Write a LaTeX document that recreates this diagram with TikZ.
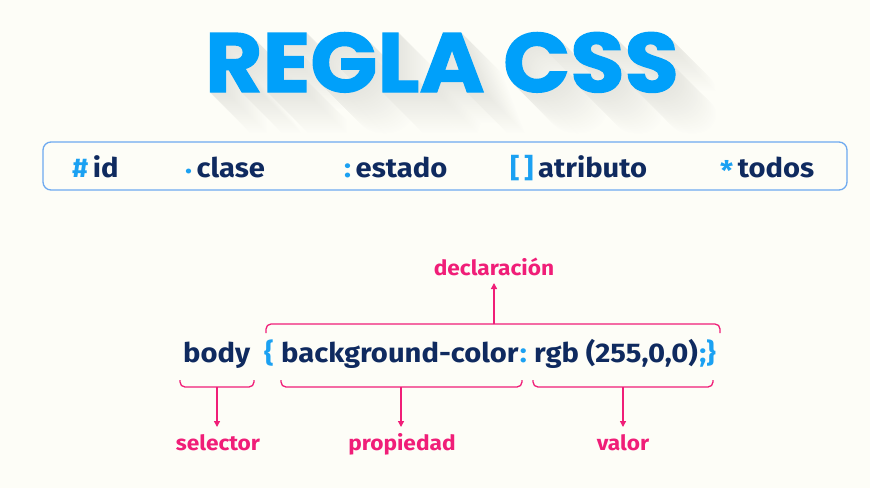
\documentclass[tikz,border=0pt]{standalone}
\usepackage{fontspec}
\setmainfont{Fira Sans}[BoldFeatures={FakeStretch=1.08}]
\newfontfamily\titlefont{Poppins}[BoldFeatures={FakeBold=1.5,FakeStretch=1.05}]
\usetikzlibrary{arrows.meta}
\definecolor{bgc}{RGB}{253,253,247}
\definecolor{navy}{RGB}{15,42,95}
\definecolor{symb}{RGB}{27,161,242}
\definecolor{titleblue}{RGB}{0,160,250}
\definecolor{pinkc}{RGB}{240,30,120}
\definecolor{boxline}{RGB}{110,170,240}
\definecolor{shadowc}{RGB}{230,230,224}
\begin{document}
\begin{tikzpicture}[x=1pt,y=-1pt,
  titletxt/.style={font=\titlefont\bfseries\fontsize{84}{84}\selectfont, inner sep=0pt, anchor=base},
  item/.style={font=\bfseries\fontsize{27}{27}\selectfont, text=navy, inner sep=0pt, anchor=base west},
  code/.style={font=\bfseries\fontsize{27}{27}\selectfont, text=navy, inner sep=0pt, anchor=base west},
  codesym/.style={code, text=symb},
  lbl/.style={font=\bfseries\fontsize{21}{21}\selectfont, text=pinkc, inner sep=0pt, anchor=base},
  brk/.style={draw=pinkc, line width=1.3pt, rounded corners=5pt},
  arr/.style={draw=pinkc, line width=1.3pt, -{Triangle[length=6pt,width=6pt]}},
]
\fill[bgc] (0,0) rectangle (870,488);
\useasboundingbox (0,0) rectangle (870,488);
% long shadow of title
\foreach \i in {40,39,...,1}{
  \pgfmathsetmacro\pct{100-\i*2.4}
  \node[titletxt, text=shadowc!\pct!bgc] at (442+\i,92+\i) {REGLA CSS};
}
\node[titletxt, text=titleblue] (title) at (442,92) {REGLA CSS};
% selector box
\node[draw=boxline, line width=1.3pt, rounded corners=8pt, minimum width=804pt, minimum height=48pt, inner sep=0pt] (box) at (445,166) {};
\node[item] (id) at (72,177) {{\color{symb}\#}\,id};
\node[item] (clase) at (185,177) {{\color{symb}\raisebox{0.12em}{.}}\,clase};
\node[item] (estado) at (344,177) {{\color{symb}:}\,estado};
\node[item] (atributo) at (510,177) {{\color{symb}[\,]}\,atributo};
\node[item] (todos) at (720,177) {{\color{symb}\raisebox{-0.14em}{*}}\,todos};
% code line
\node[code] (body) at (183,362) {body};
\node[codesym] (lbrace) at (264,362) {\{};
\node[code] (prop) at (281,362) {background-color};
\node[codesym, anchor=base west] (colon) at ([xshift=1pt]prop.base east) {:};
\node[code] (val) at (534,362) {rgb (255,0,0)};
\node[codesym, anchor=base west] (semi) at ([xshift=1pt]val.base east) {;\}};
% brackets
\draw[brk] (266,333) -- (266,324) -- (720,324) -- (720,333);
\draw[brk] (180,380) -- (180,387) -- (254,387) -- (254,380);
\draw[brk] (281,380) -- (281,387) -- (522,387) -- (522,380);
\draw[brk] (533,380) -- (533,387) -- (713,387) -- (713,380);
\coordinate (cdecl) at (494,324);
\coordinate (csel) at (217,387);
\coordinate (cprop) at (401,387);
\coordinate (cval) at (623,387);
% labels
\node[lbl] (decl) at (494,275) {declaración};
\node[lbl] (selector) at (218,450) {selector};
\node[lbl] (propiedad) at (402,450) {propiedad};
\node[lbl] (valor) at (623,450) {valor};
% arrows
\draw[arr] (cdecl) -- (494,283);
\draw[arr] (csel) -- (217,427);
\draw[arr] (cprop) -- (401,427);
\draw[arr] (cval) -- (623,427);
\end{tikzpicture}
\end{document}
